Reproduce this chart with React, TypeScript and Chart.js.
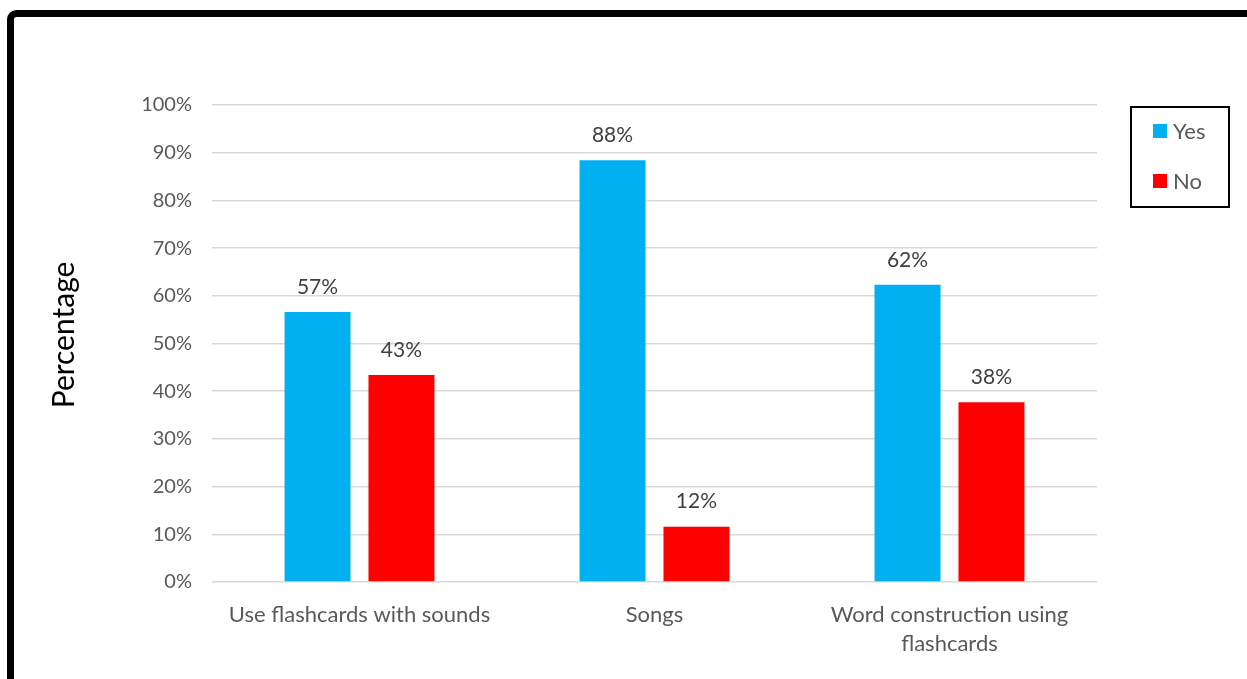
import React, { useEffect, useRef } from "react";
import { Chart, registerables } from "chart.js";

Chart.register(...registerables);

const categories: (string | string[])[] = [
  "Use flashcards with sounds",
  "Songs",
  ["Word construction using", "flashcards"],
];
const yesValues = [56.6, 88.4, 62.3];
const noValues = [43.4, 11.6, 37.7];
const seriesNames = ["Yes", "No"];
const seriesColors = ["#00B0F0", "#FF0000"];
const yTicks = [0, 10, 20, 30, 40, 50, 60, 70, 80, 90, 100];
const yTitle = "Percentage";

const FONT = "Lato, 'Open Sans', sans-serif";

export default function App() {
  const ref = useRef<HTMLCanvasElement | null>(null);
  useEffect(() => {
    const canvas = ref.current;
    if (!canvas) return;

    const framePlugin = {
      id: "frame",
      beforeDraw(chart: any) {
        const ctx = chart.ctx;
        ctx.save();
        ctx.fillStyle = "#ffffff";
        ctx.fillRect(0, 0, chart.width, chart.height);
        ctx.restore();
      },
      afterDraw(chart: any) {
        const ctx = chart.ctx;
        ctx.save();
        // outer frame
        ctx.strokeStyle = "#000000";
        ctx.lineWidth = 7;
        ctx.beginPath();
        (ctx as any).roundRect(10.5, 13.5, 1300, 720, 6);
        ctx.stroke();

        // y axis title
        ctx.save();
        ctx.translate(64, 335);
        ctx.rotate(-Math.PI / 2);
        ctx.fillStyle = "#000000";
        ctx.font = `30px ${FONT}`;
        ctx.textAlign = "center";
        ctx.textBaseline = "middle";
        ctx.fillText(yTitle, 0, 0);
        ctx.restore();

        // data labels
        ctx.fillStyle = "#404040";
        ctx.font = `21px ${FONT}`;
        ctx.textAlign = "center";
        ctx.textBaseline = "middle";
        chart.data.datasets.forEach((ds: any, di: number) => {
          const meta = chart.getDatasetMeta(di);
          meta.data.forEach((bar: any, i: number) => {
            const v = ds.data[i];
            ctx.fillText(Math.round(v) + "%", bar.x, bar.y - 25);
          });
        });

        // legend
        ctx.lineWidth = 2;
        ctx.strokeStyle = "#000000";
        ctx.strokeRect(1131, 107, 98, 100);
        ctx.textAlign = "left";
        chart.data.datasets.forEach((ds: any, di: number) => {
          const y = 131 + di * 50;
          ctx.fillStyle = ds.backgroundColor;
          ctx.fillRect(1153, y - 7, 14, 14);
          ctx.fillStyle = "#595959";
          ctx.font = `22px ${FONT}`;
          ctx.fillText(ds.label, 1173, y + 1);
        });
        ctx.restore();
      },
    };

    const chart = new Chart(canvas, {
      type: "bar",
      data: {
        labels: categories,
        datasets: [
          { label: seriesNames[0], data: yesValues, backgroundColor: seriesColors[0] },
          { label: seriesNames[1], data: noValues, backgroundColor: seriesColors[1] },
        ],
      },
      options: {
        animation: false,
        responsive: false,
        maintainAspectRatio: false,
        layout: { padding: { left: 0, right: 150, top: 105, bottom: 0 } },
        datasets: {
          bar: { categoryPercentage: 0.569, barPercentage: 0.786 },
        },
        plugins: {
          legend: { display: false },
          tooltip: { enabled: false },
        },
        scales: {
          x: {
            grid: { display: false },
            border: { display: false },
            ticks: {
              color: "#595959",
              font: { family: FONT, size: 22, lineHeight: 1.32 },
              padding: 10,
              maxRotation: 0,
              autoSkip: false,
            },
            afterFit: (s: any) => {
              s.height = 97;
            },
          },
          y: {
            min: 0,
            max: 100,
            afterBuildTicks: (s: any) => {
              s.ticks = yTicks.map((v) => ({ value: v }));
            },
            grid: { color: "#d9d9d9", lineWidth: 1.5, drawTicks: false },
            border: { display: false },
            ticks: {
              color: "#595959",
              font: { family: FONT, size: 20 },
              padding: 20,
              callback: (v: any) => v + "%",
            },
            afterFit: (s: any) => {
              s.width = 212;
            },
          },
        },
      },
      plugins: [framePlugin],
    });
    return () => chart.destroy();
  }, []);

  return (
    <div style={{ position: "fixed", left: 0, top: 0, width: 1247, height: 679 }}>
      <canvas ref={ref} width={1247} height={679} style={{ display: "block" }} />
    </div>
  );
}
